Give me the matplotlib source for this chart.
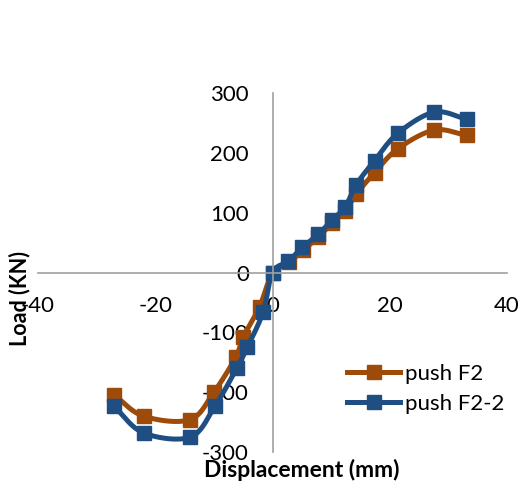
import numpy as np
import matplotlib
matplotlib.use('Agg')
import matplotlib.pyplot as plt

plt.rcParams['font.family'] = ['Lato', 'DejaVu Sans']
plt.rcParams['axes.unicode_minus'] = False

# push F2
f2_disp = [-27.1, -22.0, -14.1, -10.0, -6.3, -5.0, -2.2, 0.0, 2.8, 5.2, 7.8, 10.2, 12.4, 14.3, 17.4, 21.4, 27.6, 33.2]
f2_load = [-204, -240, -246, -200, -142, -108, -57, 0, 17, 37, 59, 83, 103, 131, 167, 207, 238, 229]

# push F2-2
f22_disp = [-27.1, -22.0, -14.0, -9.8, -6.1, -4.3, -1.6, 0.0, 2.7, 5.1, 7.8, 10.2, 12.4, 14.3, 17.4, 21.4, 27.6, 33.2]
f22_load = [-223, -268, -275, -223, -160, -125, -66, 0, 19, 42, 64, 88, 110, 147, 187, 233, 268, 256]

xticks = [-40, -20, 0, 20, 40]
yticks = [-300, -200, -100, 0, 100, 200, 300]


def smooth(x, y, n=20):
    # catmull-rom through the points, like excel's smoothed line
    x = np.asarray(x, float)
    y = np.asarray(y, float)
    px = np.concatenate([[2 * x[0] - x[1]], x, [2 * x[-1] - x[-2]]])
    py = np.concatenate([[2 * y[0] - y[1]], y, [2 * y[-1] - y[-2]]])
    xs, ys = [], []
    t = np.linspace(0, 1, n, endpoint=False)
    for i in range(1, len(px) - 2):
        for p, out in ((px, xs), (py, ys)):
            p0, p1, p2, p3 = p[i - 1], p[i], p[i + 1], p[i + 2]
            out.extend(0.5 * (2 * p1 + (-p0 + p2) * t + (2 * p0 - 5 * p1 + 4 * p2 - p3) * t ** 2
                              + (-p0 + 3 * p1 - 3 * p2 + p3) * t ** 3))
    xs.append(x[-1])
    ys.append(y[-1])
    return xs, ys


orange = '#9E4A08'
blue = '#1F4E82'

fig = plt.figure(figsize=(5.26, 4.91), dpi=100)
ax = fig.add_axes([0.0722, 0.0794, 0.8918, 0.7312])

for xd, yd, c, lab in ((f2_disp, f2_load, orange, 'push F2'), (f22_disp, f22_load, blue, 'push F2-2')):
    sx, sy = smooth(xd, yd)
    ax.plot(sx, sy, color=c, lw=3.6, solid_capstyle='round')
    ax.plot(xd, yd, ls='none', marker='s', ms=10.5, color=c)
    ax.plot([], [], color=c, lw=3.6, marker='s', ms=10.5, label=lab)

ax.set_xlim(-40, 40)
ax.set_ylim(-300, 300)
ax.set_xticks(xticks)
ax.set_yticks(yticks)
ax.spines['left'].set_position(('data', 0))
ax.spines['bottom'].set_position(('data', 0))
ax.spines['right'].set_visible(False)
ax.spines['top'].set_visible(False)
for s in ('left', 'bottom'):
    ax.spines[s].set_color('#A0A0A0')
    ax.spines[s].set_linewidth(1.2)
ax.tick_params(length=0, labelsize=16, colors='black')
ax.tick_params(axis='x', pad=17)
ax.tick_params(axis='y', pad=17)
ax.patch.set_alpha(0)

fig.text(0.038, 0.393, 'Load (KN)', rotation=90, fontsize=15.5, fontweight='bold', ha='center', va='center')
fig.text(0.574, 0.043, 'Displacement (mm)', fontsize=16.5, fontweight='bold', ha='center', va='center')

ax.legend(loc='upper left', bbox_to_anchor=(0.64, 0.27), frameon=False, fontsize=16,
          handlelength=2.4, handletextpad=0.2, labelspacing=0.45, borderaxespad=0)

fig.savefig('out.png', dpi=100)
